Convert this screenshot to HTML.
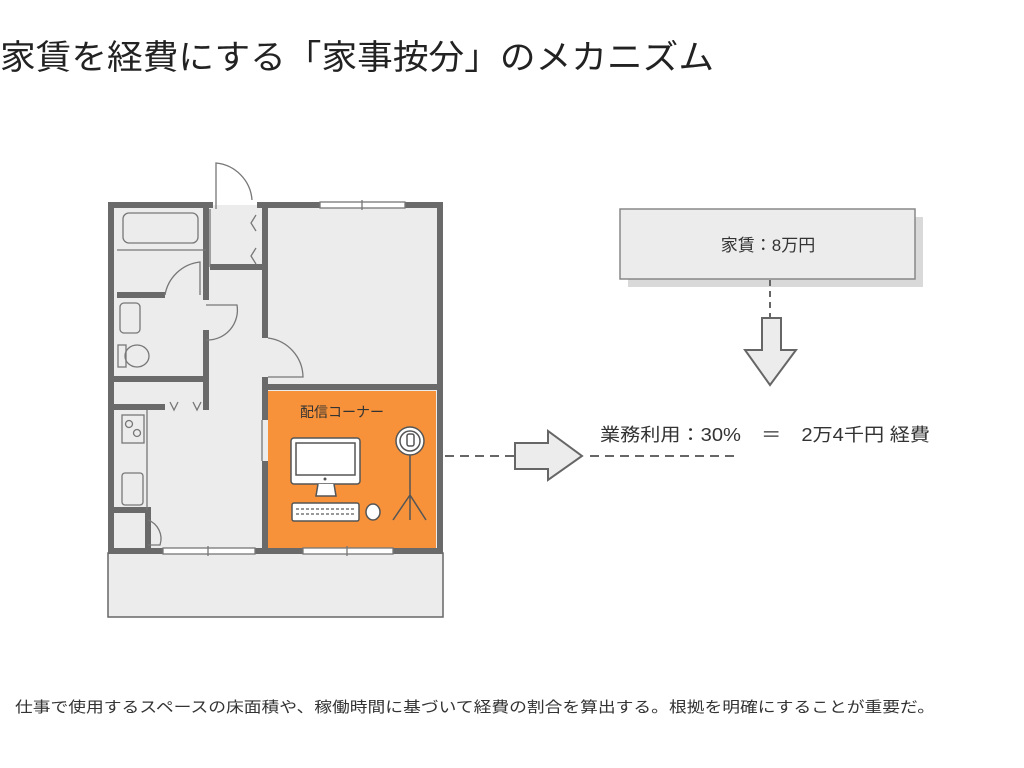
<!DOCTYPE html>
<html><head><meta charset="utf-8"><style>
html,body{margin:0;padding:0;background:#fff;width:1024px;height:768px;overflow:hidden}
svg{position:absolute;left:0;top:0}
text{font-family:"Liberation Sans","Noto Sans CJK JP",sans-serif}
</style></head><body>
<svg width="1024" height="768" viewBox="0 0 1024 768">
<text x="0" y="69" font-size="34" fill="#222" textLength="714" lengthAdjust="spacingAndGlyphs">家賃を経費にする「家事按分」のメカニズム</text>

<rect x="108" y="553" width="335" height="64" fill="#ececec" stroke="#666" stroke-width="1.5"/>
<rect x="112" y="205" width="328" height="346" fill="#ececec"/>
<rect x="268" y="391" width="168" height="157" fill="#f7923a"/>
<g fill="none" stroke="#6a6a6a" stroke-width="6">
<path d="M213 205 H111 V551 H440 V205 H257"/>
<path d="M206 205 V300 M117 295 H165"/>
<path d="M206 330 V380 M111 379 H206"/>
<path d="M206 380 V410 M111 407 H165"/>
<path d="M111 510 H148 V551"/>
<path d="M265 205 V268 M210 267 H265 M265 268 V338 M265 377 V420 M265 461 V551"/>
<path d="M265 387 H440"/>
</g>
<g fill="none" stroke="#777" stroke-width="1.3">
<rect x="320" y="202" width="85" height="6" fill="#fff"/>
<rect x="163" y="548" width="92" height="6" fill="#fff"/>
<rect x="303" y="548" width="90" height="6" fill="#fff"/>
<path d="M216 209 V163 A40 40 0 0 1 252 200"/>
<rect x="123" y="213" width="75" height="30" rx="6"/>
<path d="M117 250 H206"/>
<path d="M165 295 A40 40 0 0 1 200 262 V295"/>
<path d="M206 305 H237 A30 30 0 0 1 206 340"/>
<rect x="120" y="303" width="20" height="30" rx="4"/>
<rect x="118" y="345" width="8" height="22"/><ellipse cx="137" cy="356" rx="12" ry="11"/>
<path d="M268 338 A40 40 0 0 1 303 377 H268"/>
<path d="M210 209 V267 M256 215 l-5 8 5 8 M256 248 l-5 8 5 8"/>
<path d="M170 402 l4 8 4-8 M193 402 l4 8 4-8"/>
<path d="M147 410 V510"/>
<rect x="122" y="415" width="22" height="28"/><circle cx="129" cy="424" r="3.5"/><circle cx="137" cy="433" r="3.5"/>
<rect x="122" y="473" width="21" height="32" rx="3"/>
<path d="M148 520 A20 20 0 0 1 160 545 H148"/>
<path d="M362 200 V210 M208 546 V556 M347 546 V556"/>
<path d="M262 420 V461"/>
</g>
<text x="300" y="417" font-size="14" fill="#333">配信コーナー</text>
<g fill="#fff" stroke="#555" stroke-width="1.5">
<rect x="291" y="438" width="69" height="46" rx="3"/>
<rect x="296" y="443" width="59" height="32" fill="#fff"/>
<path d="M318 484 L316 496 H336 L334 484"/>
<rect x="292" y="503" width="67" height="18" rx="2"/>
<ellipse cx="373" cy="512" rx="7" ry="8"/>
<circle cx="410" cy="441" r="14"/><circle cx="410" cy="441" r="10"/>
<rect x="407" y="434" width="7" height="12" rx="2"/>
</g>
<circle cx="325" cy="479" r="1.5" fill="#555"/>
<g stroke="#999" stroke-width="2" stroke-dasharray="3 2"><path d="M296 509 H355 M296 514 H355"/></g>
<g fill="none" stroke="#555" stroke-width="1.5"><path d="M410 455 V520 M410 495 L393 520 M410 495 L426 520"/></g>

<rect x="628" y="217" width="295" height="70" fill="#d9d9d9"/>
<rect x="620" y="209" width="295" height="70" fill="#ececec" stroke="#888" stroke-width="1.5"/>
<text x="768" y="251" font-size="17" fill="#333" text-anchor="middle">家賃：8万円</text>
<path d="M770 280 V318" stroke="#666" stroke-width="2" stroke-dasharray="6 5"/>
<path d="M762 318 H781 V350 H796 L770 385 L745 350 H762 Z" fill="#ececec" stroke="#666" stroke-width="2"/>
<text x="600" y="441" font-size="18" fill="#333" textLength="330" lengthAdjust="spacingAndGlyphs">業務利用：30%　＝　2万4千円 経費</text>
<path d="M445 456 H515 M590 456 H740" stroke="#666" stroke-width="2" stroke-dasharray="9 6"/>
<path d="M515 443 H548 V431 L582 456 L548 480 V469 H515 Z" fill="#ececec" stroke="#666" stroke-width="2"/>

<text x="15" y="712" font-size="15" fill="#333" textLength="920" lengthAdjust="spacingAndGlyphs">仕事で使用するスペースの床面積や、稼働時間に基づいて経費の割合を算出する。根拠を明確にすることが重要だ。</text>
</svg>
</body></html>
